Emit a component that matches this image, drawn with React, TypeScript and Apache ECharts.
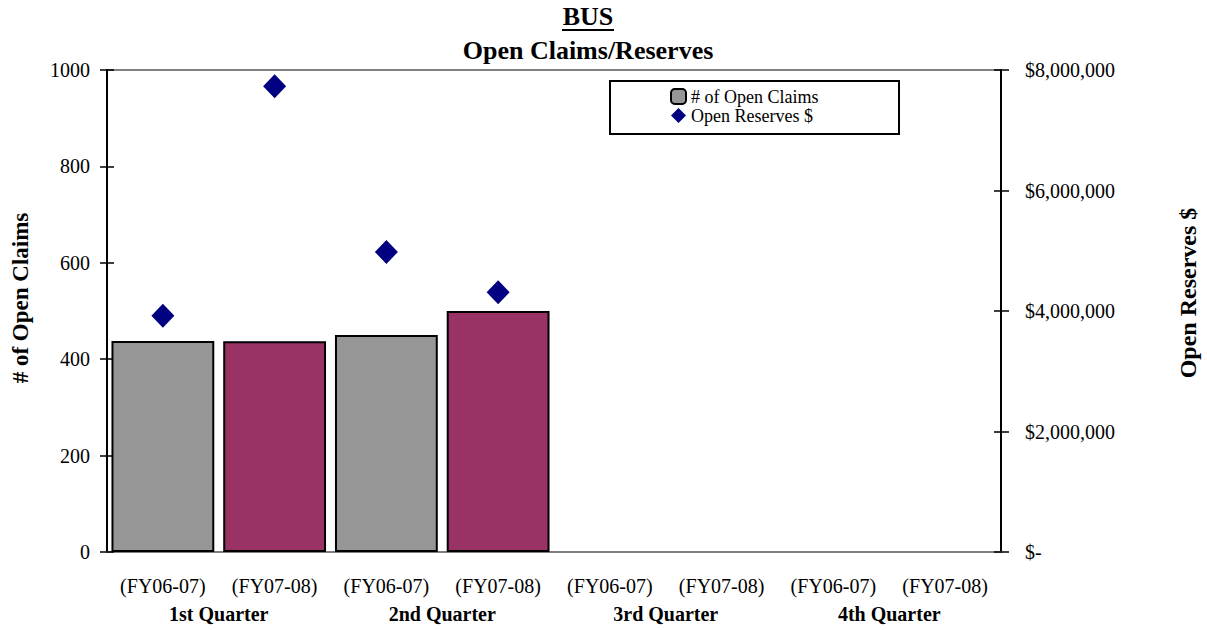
import React, { useEffect, useRef } from "react";
import * as echarts from "echarts";

const categories = [
  "(FY06-07)", "(FY07-08)", "(FY06-07)", "(FY07-08)",
  "(FY06-07)", "(FY07-08)", "(FY06-07)", "(FY07-08)",
];
const quarters = ["1st Quarter", "2nd Quarter", "3rd Quarter", "4th Quarter"];
const openClaims: (number | null)[] = [438, 437, 450, 500, null, null, null, null];
const openReserves: (number | null)[] = [3920000, 7730000, 4980000, 4310000, null, null, null, null];
const periodColors = ["#969696", "#993366"];

const FONT = '"Liberation Serif", "Times New Roman", serif';

export default function App() {
  const ref = useRef<HTMLDivElement>(null);
  useEffect(() => {
    if (!ref.current) return;
    const chart = echarts.init(ref.current, null, { renderer: "svg" });
    const barData = openClaims.map((v, i) => ({
      value: v,
      itemStyle: { color: periodColors[i % 2] },
    }));
    const tickAxis = (position: string, max: number, interval: number) => ({
      type: "value",
      position,
      min: 0,
      max,
      interval,
      axisLine: { show: false },
      axisLabel: { show: false },
      axisTick: { show: true, inside: true, length: 7, lineStyle: { color: "#000", width: 1.5 } },
      splitLine: { show: false },
    });
    chart.setOption({
      animation: false,
      backgroundColor: "#fff",
      textStyle: { fontFamily: FONT },
      grid: {
        left: 107,
        right: 206,
        top: 70,
        bottom: 78,
        show: true,
        borderColor: "#808080",
        borderWidth: 2,
        backgroundColor: "transparent",
      },
      legend: {
        left: 670,
        top: 87,
        orient: "vertical",
        padding: 0,
        itemGap: 0,
        itemWidth: 15,
        itemHeight: 15,
        textStyle: { fontFamily: FONT, fontSize: 18, color: "#000", lineHeight: 19 },
        data: [
          { name: "# of Open Claims", itemStyle: { color: "#969696", borderColor: "#000", borderWidth: 2 } },
          { name: "Open Reserves $", icon: "diamond", itemStyle: { color: "#000080", opacity: 1 } },
        ],
      },
      graphic: [
        {
          type: "rect",
          shape: { x: 610, y: 81, width: 289, height: 53 },
          style: { fill: "#fff", stroke: "#000", lineWidth: 2 },
          z: -1,
          silent: true,
        },
        {
          type: "text",
          x: 588,
          y: 3,
          style: { text: "BUS", align: "center", verticalAlign: "top", font: `bold 26px ${FONT}`, fill: "#000" },
        },
        {
          type: "line",
          shape: { x1: 562, y1: 30, x2: 614, y2: 30 },
          style: { stroke: "#000", lineWidth: 2 },
        },
        {
          type: "text",
          x: 588,
          y: 37,
          style: { text: "Open Claims/Reserves", align: "center", verticalAlign: "top", font: `bold 26px ${FONT}`, fill: "#000" },
        },
        {
          type: "text",
          x: 20,
          y: 298,
          rotation: Math.PI / 2,
          style: { text: "# of Open Claims", align: "center", verticalAlign: "middle", font: `bold 23px ${FONT}`, fill: "#000" },
        },
        {
          type: "text",
          x: 1188,
          y: 293,
          rotation: Math.PI / 2,
          style: { text: "Open Reserves $", align: "center", verticalAlign: "middle", font: `bold 24px ${FONT}`, fill: "#000" },
        },
      ],
      xAxis: [
        {
          type: "category",
          data: categories,
          position: "bottom",
          axisLine: { show: true, lineStyle: { color: "#808080", width: 2 } },
          axisTick: { show: false },
          axisLabel: { color: "#000", fontSize: 20, fontFamily: FONT, margin: 24, interval: 0 },
          splitLine: { show: false },
        },
        {
          type: "category",
          data: quarters,
          position: "bottom",
          offset: 28,
          axisLine: { show: false },
          axisTick: { show: false },
          axisLabel: { color: "#000", fontSize: 20, fontWeight: "bold", fontFamily: FONT, margin: 24, interval: 0 },
          splitLine: { show: false },
        },
      ],
      yAxis: [
        {
          type: "value",
          position: "left",
          min: 0,
          max: 1000,
          interval: 200,
          axisLine: { show: true, lineStyle: { color: "#000", width: 2 } },
          axisTick: { show: true, length: 7, lineStyle: { color: "#000", width: 1.5 } },
          axisLabel: {
            color: "#000",
            fontSize: 20,
            fontFamily: FONT,
            margin: 17,
            formatter: (v: number) => String(v),
          },
          splitLine: { show: false },
        },
        {
          type: "value",
          position: "right",
          min: 0,
          max: 8000000,
          interval: 2000000,
          axisLine: { show: true, lineStyle: { color: "#000", width: 2 } },
          axisTick: { show: true, length: 8, lineStyle: { color: "#000", width: 1.5 } },
          axisLabel: {
            color: "#000",
            fontSize: 20,
            fontFamily: FONT,
            margin: 24,
            formatter: (v: number) => (v === 0 ? "$-" : "$" + v.toLocaleString("en-US")),
          },
          splitLine: { show: false },
        },
        tickAxis("left", 1000, 200),
        tickAxis("right", 8000000, 2000000),
      ],
      series: [
        {
          name: "# of Open Claims",
          type: "bar",
          xAxisIndex: 0,
          yAxisIndex: 0,
          data: barData,
          barCategoryGap: "8%",
          itemStyle: { color: "#969696", borderColor: "#000", borderWidth: 2 },
        },
        {
          name: "Open Reserves $",
          type: "scatter",
          xAxisIndex: 0,
          yAxisIndex: 1,
          symbol: "diamond",
          symbolSize: [23, 24],
          data: openReserves,
          itemStyle: { color: "#000080", opacity: 1 },
          z: 3,
        },
      ],
    });
    return () => chart.dispose();
  }, []);
  return (
    <div
      ref={ref}
      style={{ position: "absolute", left: 0, top: 0, width: 1207, height: 630, background: "#fff" }}
    />
  );
}
